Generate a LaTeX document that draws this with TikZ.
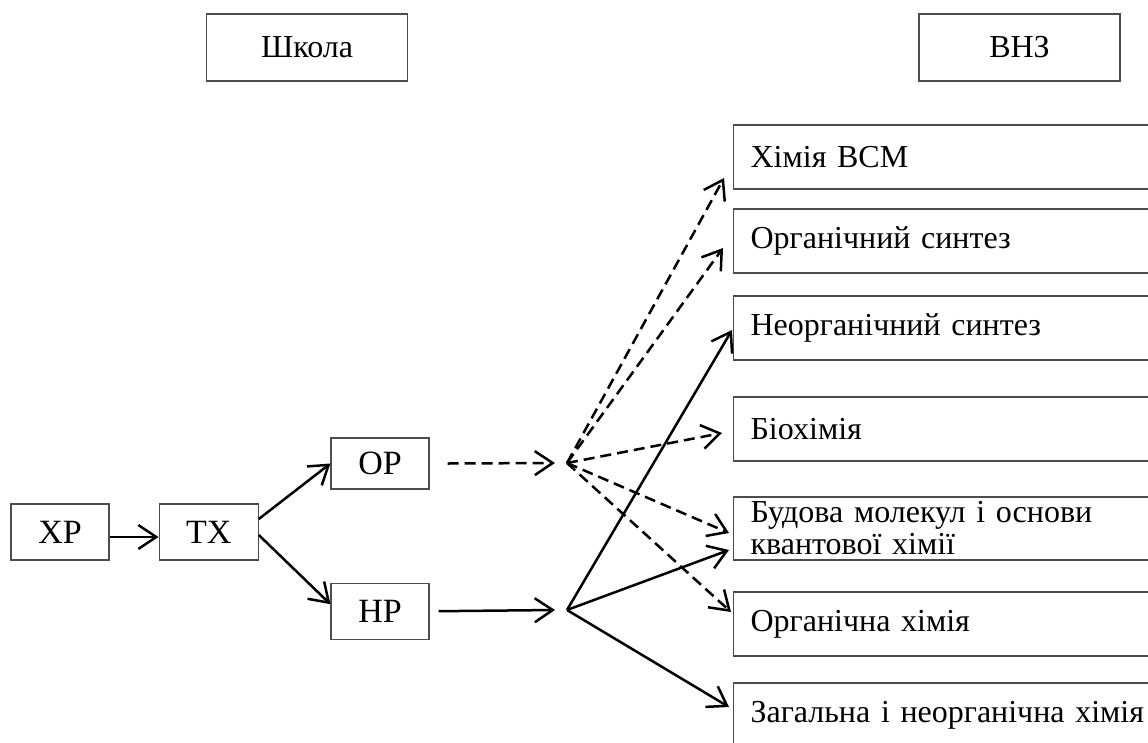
\documentclass[tikz,border=0pt]{standalone}
\usepackage{fontspec}
\setmainfont{Liberation Serif}
\usetikzlibrary{positioning,arrows.meta}
\tikzset{
  box/.style={draw=black!70, line width=1.2pt, font=\fontsize{32}{32}\selectfont, inner sep=0pt},
  small/.style={box, font=\fontsize{34}{36}\selectfont, minimum width=98pt, minimum height=56pt},
  head/.style={box, minimum width=201pt, minimum height=67pt},
  course/.style={box, anchor=west, minimum height=64pt, inner xsep=17pt, text width=406pt, align=left},
  arr/.style={line width=2.5pt, -{Straight Barb[length=18pt,width=24pt]}},
  darr/.style={arr, dash pattern=on 11pt off 6pt},
}

\begin{document}
\begin{tikzpicture}[x=1pt,y=-1pt]
    \useasboundingbox (0,0) rectangle (1148,742);
    \clip (0,0) rectangle (1148,742);
    \node[head] (school) at (307,47.5) {Школа};
    \node[head] (vnz) at (1019.5,47.5) {ВНЗ};
    \node[small] (xr) at (60,532) {ХР};
    \node[small, minimum width=99pt] (tx) [right=49pt of xr] {ТХ};
    \node[small, minimum height=51pt] (or) at (380,463.5) {ОР};
    \node[small] (nr) [below=93pt of or] {НР};
    \node[course] (vms) at (733,157) {Хімія ВСМ};
    \node[course] (osyn) at (733,241) {Органічний синтез};
    \node[course] (nsyn) at (733,328) {Неорганічний синтез};
    \node[course] (bio) at (733,429) {Біохімія};
    \node[course, minimum height=63pt] (bud) at (733,528.5) {Будова молекул і основи\\квантової хімії};
    \node[course] (orgch) at (733,624) {Органічна хімія};
    \node[course] (zag) at (733,715) {Загальна і неорганічна хімія};
    \coordinate (hubo) at (567,463);
    \coordinate (hubn) at (567,610);
    \coordinate (oend) at (555,463);
    \coordinate (nend) at (555,610);
    \draw[arr] ([yshift=-5pt]xr.east) -- ([yshift=-5pt]tx.west);
    \draw[arr] ([yshift=13pt]tx.east) -- (or.west);
    \draw[arr] ([yshift=-3pt]tx.east) -- ([yshift=7pt]nr.west);
    \draw[darr] ([xshift=18pt]or.east) -- (oend);
    \draw[arr] ([xshift=9pt]nr.east) -- (nend);
    \foreach \t/\dx/\dy in {vms/-9/-21, osyn/-10/-7, bio/-11/-4, bud/-4/-4.5, orgch/-2/12}
      \draw[darr] (hubo) -- ([xshift=\dx pt, yshift=\dy pt]\t.west);
    \foreach \t/\dx/\dy in {nsyn/-1/-2, bud/-4/-21.5, zag/-4/8}
      \draw[arr] (hubn) -- ([xshift=\dx pt, yshift=\dy pt]\t.west);
\end{tikzpicture}
\end{document}
